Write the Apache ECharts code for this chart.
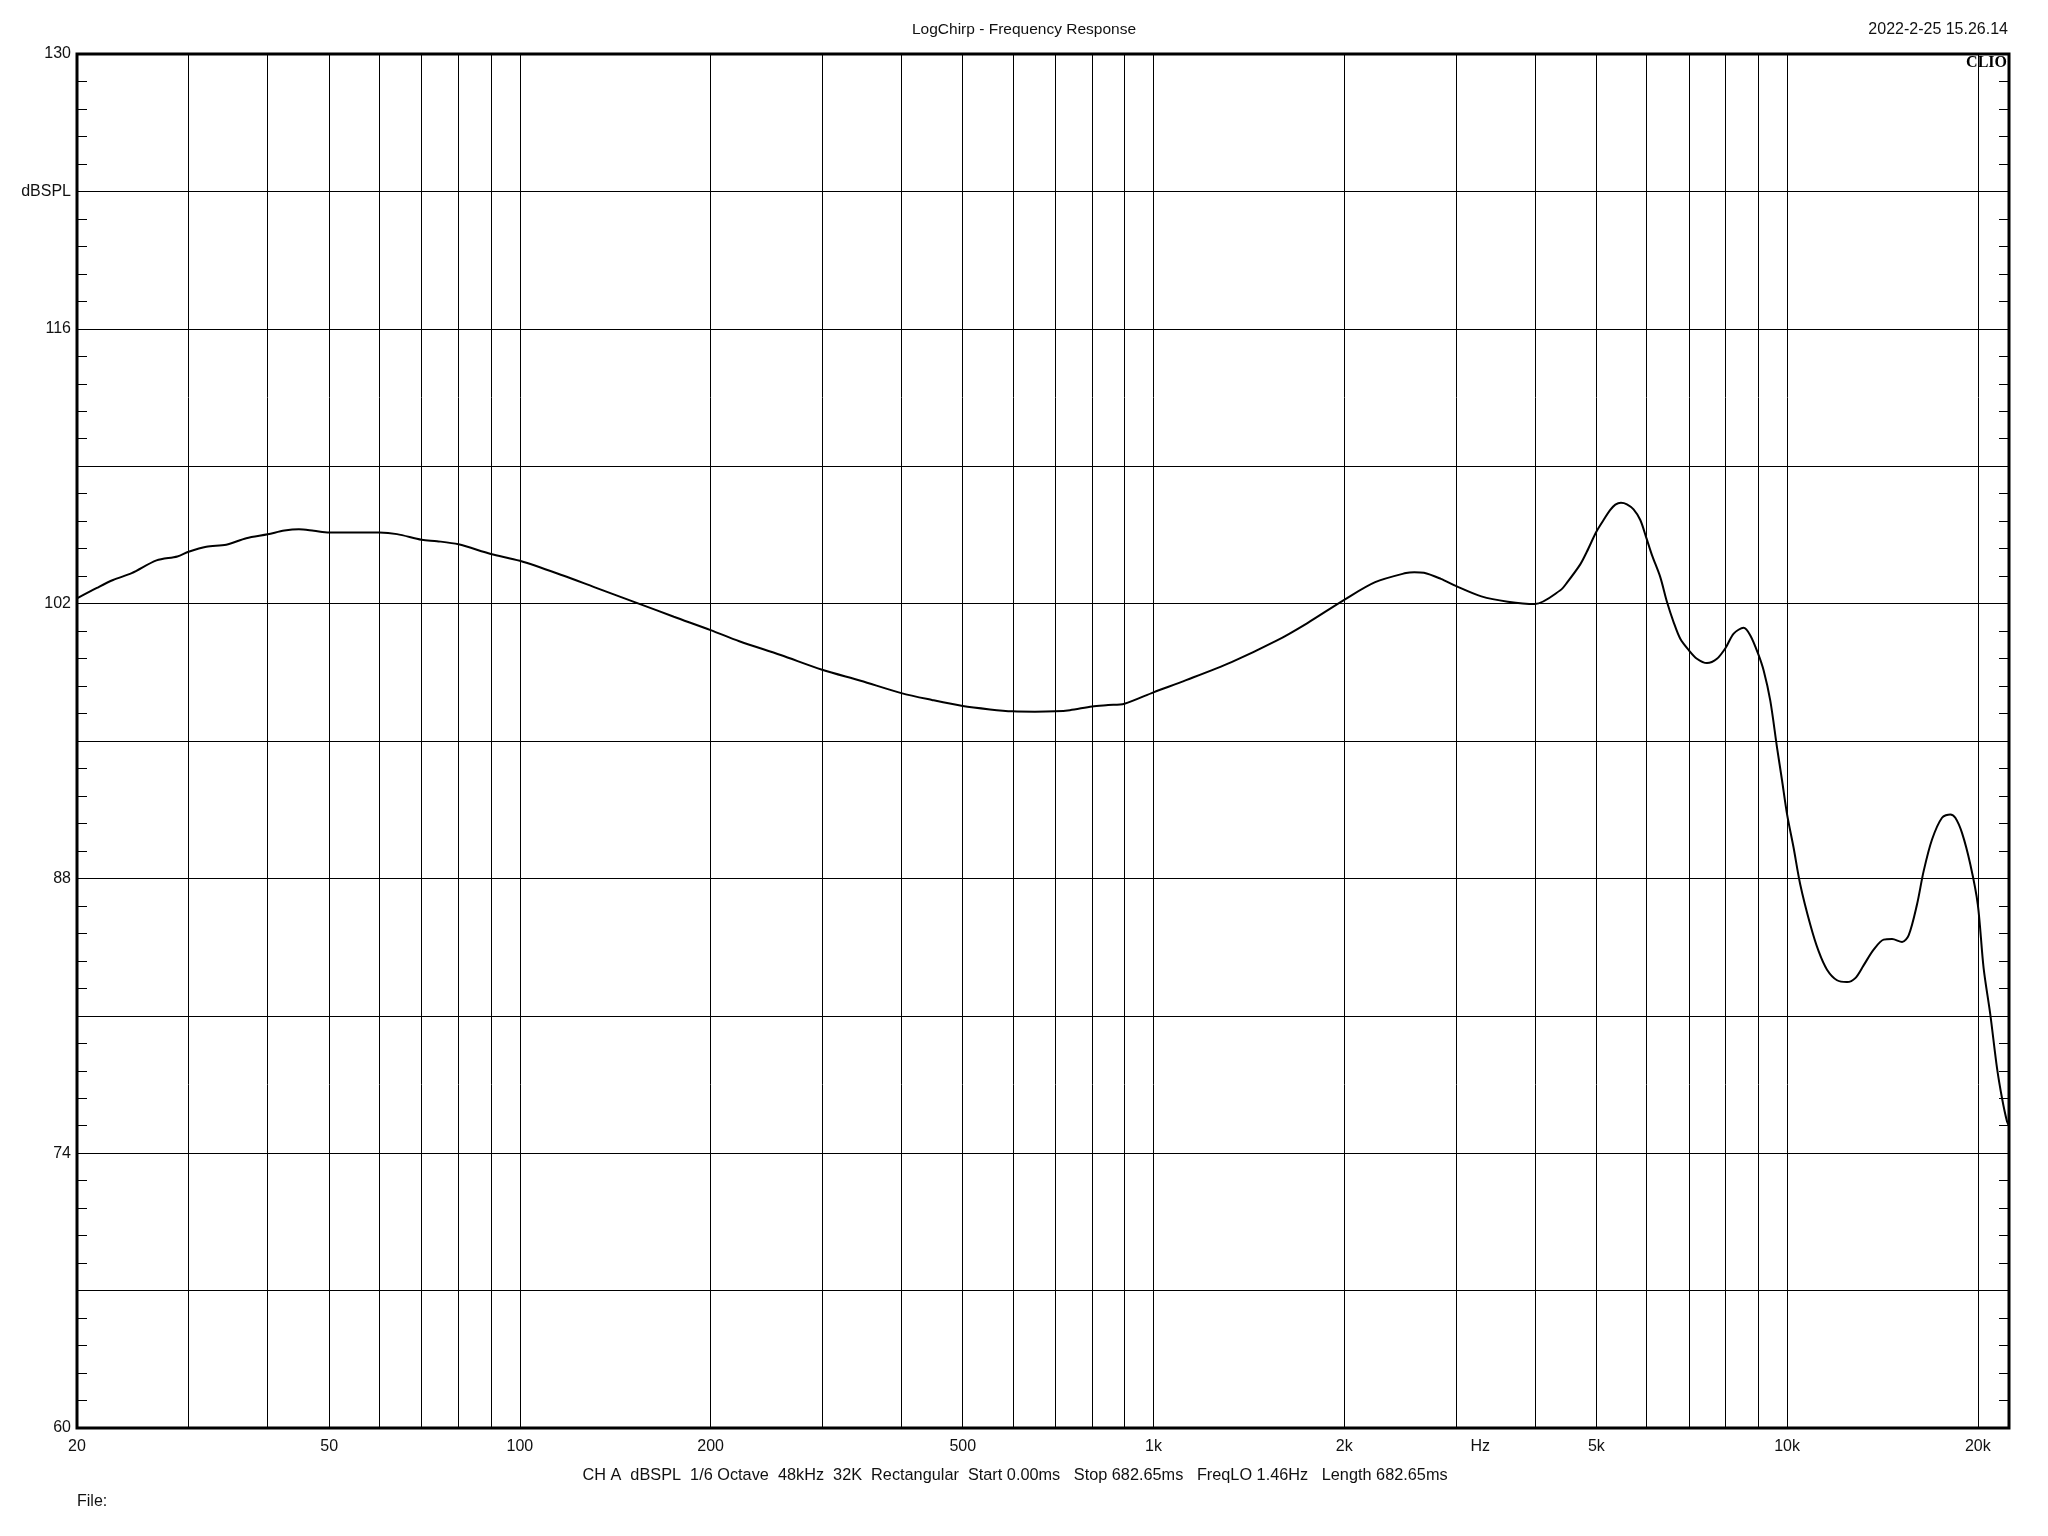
<!DOCTYPE html>
<html>
<head>
<meta charset="utf-8">
<script src="https://cdn.jsdelivr.net/npm/echarts@6/dist/echarts.min.js"></script>
<style>
html,body{margin:0;padding:0;background:#fff;}
#chart{width:2048px;height:1536px;}
</style>
</head>
<body>
<div id="chart"></div>
<script>
// Frequency (Hz) and level (dBSPL)
const freqs = [
  20, 21.5, 22.8, 24.4, 26.7, 28.8, 30, 32, 34.4, 37, 40, 42.5, 44.8, 47.3, 50, 55, 60, 64, 70, 74, 80, 90,
  100, 117, 131, 154, 175, 200, 222, 258, 300, 345, 400, 447, 500, 552, 600, 650, 700, 738, 800, 848, 900,
  1000, 1126, 1328, 1564, 1750, 2000, 2238, 2504, 2580, 2672, 2842, 3000, 3292, 3624, 4000, 4387, 4494, 4716, 4830,
  5000, 5133, 5260, 5357, 5468, 5588, 5724, 5866, 6000, 6120, 6306, 6462, 6620, 6783, 7000, 7206, 7474, 7750,
  8000, 8236, 8540, 8750, 9000, 9184, 9408, 9640, 9818,
  10000, 10240, 10490, 10878, 11214, 11562, 11990, 12434, 12814, 13206, 13696, 14204, 14644, 15186, 15554,
  16034, 16426, 16934, 17560, 18098, 18430, 18883, 19464, 20000, 20426, 20930, 21446, 21840, 22240, 22400
];
const levels = [
  102.27, 102.8, 103.2, 103.55, 104.2, 104.4, 104.64, 104.9, 105.0, 105.33, 105.53, 105.72, 105.79, 105.71, 105.62, 105.62, 105.62, 105.54, 105.25, 105.18, 105.02, 104.53,
  104.18, 103.43, 102.84, 102.0, 101.33, 100.65, 100.08, 99.38, 98.63, 98.07, 97.44, 97.09, 96.78, 96.61, 96.51, 96.49, 96.51, 96.57, 96.76, 96.83, 96.9,
  97.48, 98.1, 99.02, 100.11, 101.01, 102.19, 103.09, 103.56, 103.6, 103.57, 103.26, 102.9, 102.37, 102.1, 101.98, 102.68, 103.07, 104.0, 104.64,
  105.66, 106.26, 106.77, 107.04, 107.14, 107.06, 106.8, 106.26, 105.32, 104.47, 103.36, 102.09, 101.06, 100.21, 99.62, 99.19, 98.97, 99.19,
  99.75, 100.47, 100.77, 100.38, 99.45, 98.59, 97.06, 94.68, 93.0,
  91.26, 89.56, 87.69, 85.65, 84.29, 83.35, 82.81, 82.72, 82.92, 83.57, 84.37, 84.88, 84.91, 84.76, 85.1,
  86.67, 88.37, 89.98, 91.09, 91.26, 91.09, 90.32, 88.71, 86.67, 83.43, 81.06, 78.33, 76.8, 75.61, 75.4
];
// Vertical grid lines (Hz)
const xGridValues = [20, 30, 40, 50, 60, 70, 80, 90, 100, 200, 300, 400, 500, 600, 700, 800, 900,
  1000, 2000, 3000, 4000, 5000, 6000, 7000, 8000, 9000, 10000, 20000];
// X tick labels
const xLabelValues = [20, 50, 100, 200, 500, 1000, 2000, 3280, 5000, 10000, 20000];
const xLabelTexts = ['20', '50', '100', '200', '500', '1k', '2k', 'Hz', '5k', '10k', '20k'];
// Y tick labels
const yLabelValues = [130, 123, 116, 102, 88, 74, 60];
const yLabelTexts = ['130', 'dBSPL', '116', '102', '88', '74', '60'];

const titleText = 'LogChirp - Frequency Response';
const dateText = '2022-2-25 15.26.14';
const brandText = 'CLIO';
const footerText = 'CH A  dBSPL  1/6 Octave  48kHz  32K  Rectangular  Start 0.00ms   Stop 682.65ms   FreqLO 1.46Hz   Length 682.65ms';
const fileText = 'File:';

const FONT = "'Liberation Sans', Arial, sans-serif";
const chart = echarts.init(document.getElementById('chart'), null, {renderer: 'canvas'});

function yFmt(v) {
  for (let i = 0; i < yLabelValues.length; i++) {
    if (Math.abs(v - yLabelValues[i]) < 0.01) return yLabelTexts[i];
  }
  return '';
}
function xFmt(v) {
  for (let i = 0; i < xLabelValues.length; i++) {
    if (Math.abs(Math.log10(v) - Math.log10(xLabelValues[i])) < 0.005) return xLabelTexts[i];
  }
  return '';
}

const yBase = {
  type: 'value', min: 60, max: 130, interval: 7,
  axisLine: {show: false},
  axisTick: {show: true, inside: true, length: 10, lineStyle: {color: '#000', width: 1}},
  minorTick: {show: true, splitNumber: 5, length: 10, lineStyle: {color: '#000', width: 1}},
  minorSplitLine: {show: false}
};

const option = {
  backgroundColor: '#fff',
  animation: false,
  grid: {left: 77, right: 39, top: 54, bottom: 108, show: true, borderColor: '#000', borderWidth: 3, backgroundColor: 'transparent'},
  xAxis: {
    type: 'log', logBase: 10, min: 20, max: 22400,
    axisLine: {show: false},
    axisTick: {show: false, customValues: xGridValues},
    axisLabel: {
      customValues: xLabelValues, formatter: xFmt, margin: 11,
      color: '#111', fontFamily: FONT, fontSize: 16
    },
    splitLine: {show: true, lineStyle: {color: '#000', width: 1}},
    minorTick: {show: false}, minorSplitLine: {show: false}
  },
  yAxis: [
    Object.assign({}, yBase, {
      position: 'left',
      axisLabel: {show: true, formatter: yFmt, margin: 6, color: '#111', fontFamily: FONT, fontSize: 16},
      splitLine: {show: true, lineStyle: {color: '#000', width: 1}}
    }),
    Object.assign({}, yBase, {
      position: 'right',
      axisLabel: {show: false},
      splitLine: {show: false}
    })
  ],
  series: [{
    type: 'line',
    data: freqs.map((f, i) => [f, levels[i]]),
    showSymbol: false,
    smooth: 0.3,
    lineStyle: {color: '#000', width: 2},
    clip: true,
    z: 5
  }],
  graphic: [
    {type: 'text', x: 1024, y: 30, style: {text: titleText, textAlign: 'center', textVerticalAlign: 'middle', font: "15.5px 'Liberation Sans', Arial, sans-serif", fill: '#111'}},
    {type: 'text', x: 2008, y: 30, style: {text: dateText, textAlign: 'right', textVerticalAlign: 'middle', font: "16px 'Liberation Sans', Arial, sans-serif", fill: '#111'}},
    {type: 'text', x: 2007, y: 63, z: 10, style: {text: brandText, textAlign: 'right', textVerticalAlign: 'middle', font: "bold 16px 'Liberation Serif', 'Times New Roman', serif", fill: '#000'}},
    {type: 'text', x: 1015, y: 1476, style: {text: footerText, textAlign: 'center', textVerticalAlign: 'middle', font: "16.3px 'Liberation Sans', Arial, sans-serif", fill: '#111'}},
    {type: 'text', x: 77, y: 1502, style: {text: fileText, textAlign: 'left', textVerticalAlign: 'middle', font: "16px 'Liberation Sans', Arial, sans-serif", fill: '#111'}}
  ]
};
chart.setOption(option);
</script>
</body>
</html>
